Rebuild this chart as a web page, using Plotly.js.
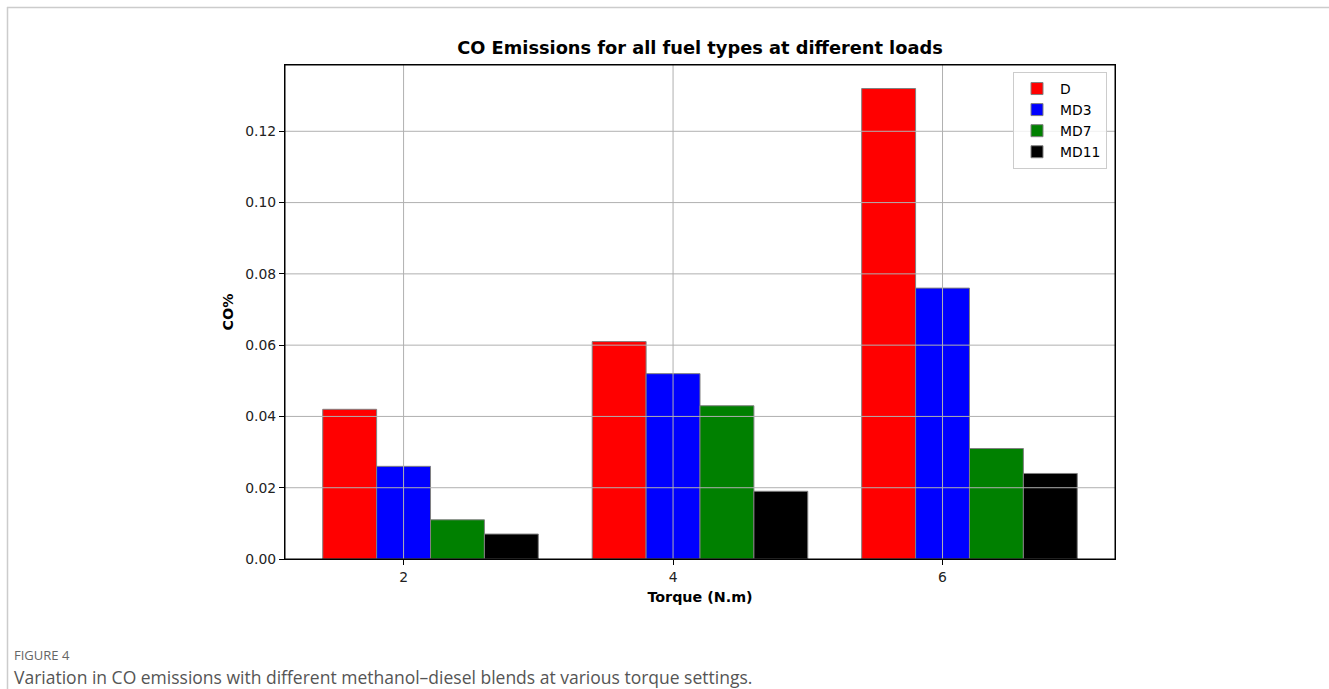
<!DOCTYPE html>
<html>
<head>
<meta charset="utf-8">
<script src="https://cdn.plot.ly/plotly-3.0.1.min.js"></script>
<style>
  html, body { margin: 0; padding: 0; background: #ffffff; }
  #chart { width: 1329px; height: 689px; }
</style>
</head>
<body>
<div id="chart"></div>
<script>
// ---- data ----
const torque = [2, 4, 6];
const tickLabels = ["2", "4", "6"];
const fuels = ["D", "MD3", "MD7", "MD11"];
const coD    = [0.042, 0.061, 0.132];
const coMD3  = [0.026, 0.052, 0.076];
const coMD7  = [0.011, 0.043, 0.031];
const coMD11 = [0.007, 0.019, 0.024];
const yTicks = [0.00, 0.02, 0.04, 0.06, 0.08, 0.10, 0.12];

// ---- styling ----
const colors = ["red", "blue", "green", "black"];
const series = [coD, coMD3, coMD7, coMD11];
const barWidth = 0.4;             // in torque units
const offsets = [-0.6, -0.2, 0.2, 0.6];
const FONT = "DejaVu Sans, sans-serif";

// page geometry (px) -> paper coordinates
const W = 1329, H = 689;
const L = 285, R = 1115, T = 65, B = 559;
const px = x => (x - L) / (R - L);
const py = y => (B - y) / (B - T);

const traces = series.map((vals, i) => ({
  type: "bar",
  name: fuels[i],
  x: torque,
  y: vals,
  width: barWidth,
  offset: offsets[i],
  legendgroup: fuels[i],
  marker: { color: colors[i], line: { color: "#808080", width: 1 } },
  hoverinfo: "x+y+name"
}));

const yMax = Math.max(...coD, ...coMD3, ...coMD7, ...coMD11) * 1.05;

const gridColor = "#b0b0b0";
const shapes = [];
yTicks.slice(1).forEach(v => shapes.push({
  type: "line", layer: "above", xref: "paper", x0: 0, x1: 1, yref: "y", y0: v, y1: v,
  line: { color: gridColor, width: 1 }
}));
torque.forEach(v => shapes.push({
  type: "line", layer: "above", xref: "x", x0: v, x1: v, yref: "paper", y0: 0, y1: 1,
  line: { color: gridColor, width: 1 }
}));
// frame of the plot on top
shapes.push({ type: "rect", layer: "above", xref: "paper", yref: "paper", x0: 0, x1: 1, y0: 0, y1: 1,
  line: { color: "black", width: 1 } });
// page card border (top and left)
shapes.push({ type: "line", layer: "above", xref: "paper", yref: "paper",
  x0: px(7), x1: px(W + 5), y0: py(7.5), y1: py(7.5), line: { color: "#cccccc", width: 1.5 } });
shapes.push({ type: "line", layer: "above", xref: "paper", yref: "paper",
  x0: px(7.5), x1: px(7.5), y0: py(7), y1: py(H + 5), line: { color: "#cccccc", width: 1.5 } });

const layout = {
  width: W, height: H,
  margin: { l: L, r: W - R, t: T, b: H - B, pad: 0 },
  paper_bgcolor: "white", plot_bgcolor: "white",
  font: { family: FONT, size: 13.9, color: "black" },
  barmode: "overlay",
  showlegend: true,
  title: {
    text: "<b>CO Emissions for all fuel types at different loads</b>",
    font: { family: FONT, size: 17.8, color: "black" },
    xref: "paper", x: 0.5, xanchor: "center",
    yref: "container", y: 1 - 48 / H, yanchor: "middle"
  },
  xaxis: {
    range: [1.12, 7.28],
    tickmode: "array", tickvals: torque, ticktext: tickLabels,
    ticks: "outside", ticklen: 5, tickwidth: 1, tickcolor: "black",
    showgrid: false, zeroline: false,
    showline: true, linecolor: "black", linewidth: 1, mirror: true,
    tickfont: { family: FONT, size: 13.9, color: "#222" },
    title: { text: "<b>Torque (N.m)</b>", font: { family: FONT, size: 14.3, color: "black" }, standoff: 8 },
    automargin: false, fixedrange: true
  },
  yaxis: {
    range: [0, yMax],
    tickmode: "array", tickvals: yTicks, ticktext: yTicks.map(v => v.toFixed(2)),
    ticks: "outside", ticklen: 5, tickwidth: 1, tickcolor: "black",
    showgrid: false, zeroline: false,
    showline: true, linecolor: "black", linewidth: 1, mirror: true,
    tickfont: { family: FONT, size: 13.9, color: "#222" },
    title: { text: "<b>CO%</b>", font: { family: FONT, size: 14.3, color: "black" }, standoff: 8 },
    automargin: false, fixedrange: true
  },
  legend: {
    x: px(1107), xanchor: "right", xref: "paper",
    y: py(72), yanchor: "top", yref: "paper",
    bgcolor: "rgba(255,255,255,0.8)", bordercolor: "#cccccc", borderwidth: 1,
    font: { family: FONT, size: 13.9, color: "black" },
    traceorder: "normal", tracegroupgap: 3, itemwidth: 36
  },
  shapes: shapes,
  annotations: [
    { xref: "paper", yref: "paper", x: px(12), y: py(655), xanchor: "left", yanchor: "middle",
      text: "FIGURE 4", showarrow: false,
      font: { family: "Open Sans, sans-serif", size: 13, color: "#666666" } },
    { xref: "paper", yref: "paper", x: px(12), y: py(677), xanchor: "left", yanchor: "middle",
      text: "Variation in CO emissions with different methanol\u2013diesel blends at various torque settings.",
      showarrow: false,
      font: { family: "Open Sans, sans-serif", size: 17.5, color: "#555555" } }
  ]
};

Plotly.newPlot("chart", traces, layout, { displayModeBar: false, staticPlot: false, responsive: false });
</script>
</body>
</html>
